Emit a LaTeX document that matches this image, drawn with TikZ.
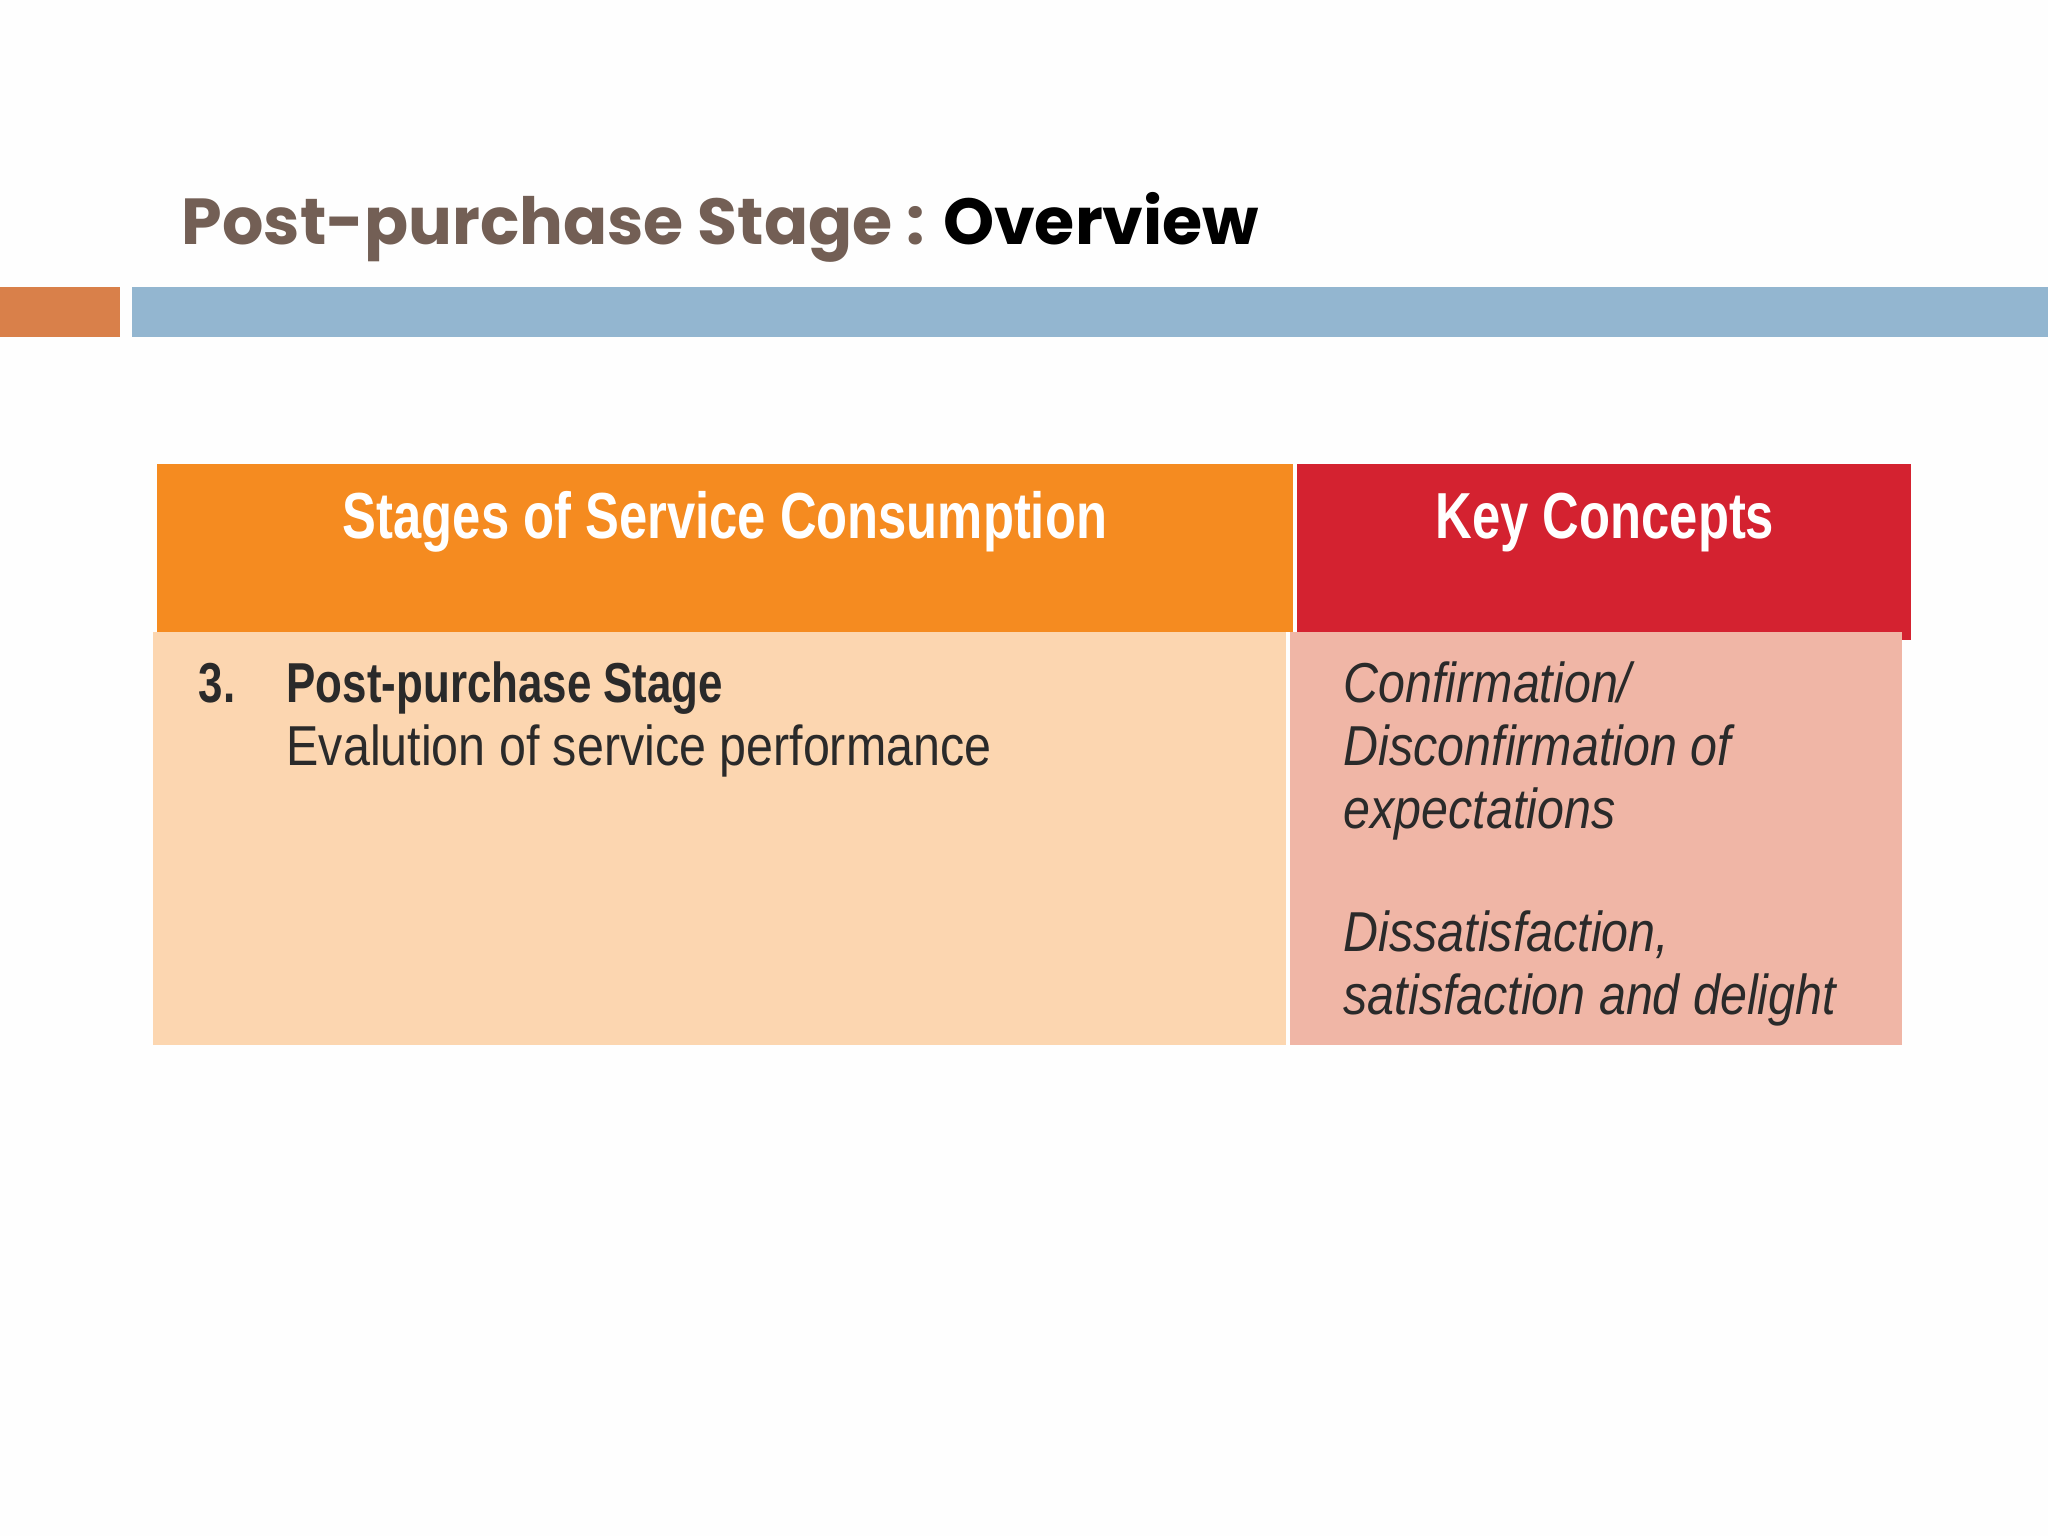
\documentclass[tikz,border=0pt]{standalone}
\usepackage{fontspec}
\setmainfont{Liberation Sans}
\newfontfamily\titlefont{Poppins}
\newfontfamily\condfont[FakeStretch=0.78]{Liberation Sans}
\newfontfamily\bodyfont[FakeStretch=0.86]{Liberation Sans}
\definecolor{titlegray}{HTML}{735F55}
\definecolor{barorange}{HTML}{D9804A}
\definecolor{barblue}{HTML}{93B6D0}
\definecolor{hdrorange}{HTML}{F58B20}
\definecolor{hdrred}{HTML}{D42230}
\definecolor{bodyleft}{HTML}{FCD6B0}
\definecolor{bodyright}{HTML}{F0B6A6}
\definecolor{txt}{HTML}{2A2A2A}
\tikzset{
 hdr/.style={font=\condfont\bfseries\fontsize{18.5}{22}\selectfont, text=white, anchor=base},
 body/.style={font=\bodyfont\fontsize{16}{19}\selectfont, text=txt, anchor=base west, inner sep=0pt},
 bodyb/.style={body, font=\condfont\bfseries\fontsize{16}{19}\selectfont},
 bodyi/.style={body, font=\bodyfont\itshape\fontsize{16}{19}\selectfont},
}
\begin{document}
\begin{tikzpicture}[x=0.01cm,y=-0.01cm]
\fill[white!99!gray] (0,0) rectangle (2048,1536);
\useasboundingbox (0,0) rectangle (2048,1536);
\node[anchor=base west, inner sep=0pt, font=\titlefont\bfseries\fontsize{18.5}{22}\selectfont] (title) at (181,244)
 {\textcolor{titlegray}{Post-purchase Stage :} Overview};
\fill[barorange] (0,287) rectangle (120,337);
\fill[barblue] (132,287) rectangle (2048,337);
\fill[hdrorange] (157,464) rectangle (1293,632);
\fill[hdrred] (1297,464) rectangle (1911,640);
\fill[bodyleft] (153,632) rectangle (1286,1045);
\fill[bodyright] (1290,632) rectangle (1902,1045);
\node[hdr] (h1) at (725,538) {Stages of Service Consumption};
\node[hdr] (h2) at (1605,538) {Key Concepts};
\node[bodyb] (n3) at (198,702) {3.};
\node[bodyb] (s1) at (286,702) {Post-purchase Stage};
\node[body] (s2) at (286,765) {Evalution of service performance};
\node[bodyi] (k1) at (1343,702) {Confirmation/};
\node[bodyi] (k2) at (1343,765) {Disconfirmation of};
\node[bodyi] (k3) at (1343,828) {expectations};
\node[bodyi] (k4) at (1343,951) {Dissatisfaction,};
\node[bodyi] (k5) at (1343,1014) {satisfaction and delight};
\end{tikzpicture}
\end{document}
